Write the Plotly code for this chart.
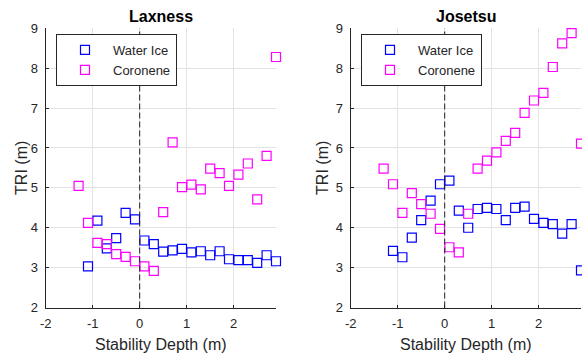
import plotly.graph_objects as go

# ---------------- data ----------------
depth = [-1.3, -1.1, -0.9, -0.7, -0.5, -0.3, -0.1, 0.1, 0.3, 0.5, 0.7,
         0.9, 1.1, 1.3, 1.5, 1.7, 1.9, 2.1, 2.3, 2.5, 2.7, 2.9]

lax_ice = [None, 3.03, 4.18, 3.48, 3.74, 4.37, 4.21, 3.68, 3.59, 3.40, 3.43,
           3.47, 3.38, 3.41, 3.31, 3.41, 3.21, 3.19, 3.19, 3.12, 3.31, 3.16]
lax_cor = [5.05, 4.12, 3.62, 3.59, 3.34, 3.27, 3.16, 3.03, 2.92, 4.39, 6.14,
           5.02, 5.08, 4.96, 5.48, 5.37, 5.05, 5.33, 5.61, 4.71, 5.80, 8.28]

jos_ice = [None, 3.42, 3.26, 3.75, 4.19, 4.68, 5.09, 5.18, 4.43, 4.00, 4.47,
           4.50, 4.47, 4.19, 4.50, 4.53, 4.22, 4.12, 4.09, 3.85, 4.09, 2.93]
jos_cor = [5.48, 5.09, 4.37, 4.87, 4.59, 4.35, 3.97, 3.51, 3.38, 4.35, 5.48,
           5.68, 5.89, 6.18, 6.38, 6.88, 7.19, 7.38, 8.03, 8.62, 8.88, 6.11]

x_tickvals = [-2, -1, 0, 1, 2]
x_ticktext = ["-2", "-1", "0", "1", "2"]
y_tickvals = [2, 3, 4, 5, 6, 7, 8, 9]
titles = ["Laxness", "Josetsu"]
series_names = ["Water Ice", "Coronene"]

# ---------------- style ----------------
FONT = "Liberation Sans, Arial, Helvetica, sans-serif"
AX = "#262626"
GRID = "#e3e3e3"
BLUE = "#0000ff"
MAG = "#ff00ff"

W, H = 582, 354
dom_x = [[45.7 / W, 276.0 / W], [350.7 / W, 581.0 / W]]
dom_y = [(H - 307.5) / H, (H - 28.3) / H]

fig = go.Figure()

panels = [(lax_ice, lax_cor), (jos_ice, jos_cor)]
for i, (ice, cor) in enumerate(panels):
    xa = "x" if i == 0 else "x2"
    ya = "y" if i == 0 else "y2"
    lg = "legend" if i == 0 else "legend2"
    for vals, name, col in [(ice, series_names[0], BLUE), (cor, series_names[1], MAG)]:
        fig.add_trace(go.Scatter(
            x=depth, y=vals, mode="markers", name=name,
            xaxis=xa, yaxis=ya, legend=lg, cliponaxis=False,
            marker=dict(symbol="square-open", size=9, color=col,
                        line=dict(color=col, width=1.2)),
        ))

axis_common = dict(
    showgrid=True, gridcolor=GRID, gridwidth=1,
    showline=True, linecolor=AX, linewidth=1,
    ticks="inside", ticklen=3, tickcolor=AX,
    tickfont=dict(family=FONT, size=13, color=AX),
    zeroline=False, mirror=False, automargin=False,
)

layout = dict(
    width=W, height=H,
    margin=dict(l=0, r=0, t=0, b=0),
    paper_bgcolor="white", plot_bgcolor="white",
    showlegend=True,
)
for i in range(2):
    sx = "" if i == 0 else "2"
    layout["xaxis" + sx] = dict(
        axis_common, domain=dom_x[i], range=[-2, 2.9],
        tickmode="array", tickvals=x_tickvals, ticktext=x_ticktext,
        anchor="y" + sx, ticklabelstandoff=4,
    )
    layout["yaxis" + sx] = dict(
        axis_common, domain=dom_y, range=[2, 9],
        tickmode="array", tickvals=y_tickvals,
        anchor="x" + sx, ticklabelstandoff=4,
    )

leg_common = dict(
    bgcolor="white", bordercolor=AX, borderwidth=1,
    font=dict(family=FONT, size=13, color=AX),
    xanchor="left", yanchor="top", itemwidth=46,
    tracegroupgap=0,
)
layout["legend"] = dict(leg_common, x=56 / W, y=(H - 34) / H)
layout["legend2"] = dict(leg_common, x=361 / W, y=(H - 34) / H)

fig.update_layout(**layout)

# titles & axis labels
ann = []
for i in range(2):
    cx = (dom_x[i][0] + dom_x[i][1]) / 2
    ann.append(dict(text="<b>" + titles[i] + "</b>", x=cx, y=(H - 16.7) / H,
                    xref="paper", yref="paper", showarrow=False,
                    font=dict(family=FONT, size=16, color="black"),
                    xanchor="center", yanchor="middle"))
    ann.append(dict(text="Stability Depth (m)", x=cx, y=(H - 344) / H,
                    xref="paper", yref="paper", showarrow=False,
                    font=dict(family=FONT, size=16, color=AX),
                    xanchor="center", yanchor="middle"))
    ann.append(dict(text="TRI (m)", x=(22 if i == 0 else 323) / W,
                    y=(dom_y[0] + dom_y[1]) / 2,
                    xref="paper", yref="paper", showarrow=False, textangle=-90,
                    font=dict(family=FONT, size=16, color=AX),
                    xanchor="center", yanchor="middle"))
fig.update_layout(annotations=ann)

# dashed reference line at x = 0 on each panel
for i in range(2):
    sx = "" if i == 0 else "2"
    fig.add_shape(type="line", xref="x" + sx, yref="y" + sx + " domain",
                  x0=0, x1=0, y0=0, y1=1,
                  line=dict(color="#222222", width=1, dash="6px,3px"),
                  layer="above")

fig.write_html(
    "out.html",
    config={"displayModeBar": False},
    post_script="document.body.style.margin='0';document.body.style.overflow='hidden';",
)
